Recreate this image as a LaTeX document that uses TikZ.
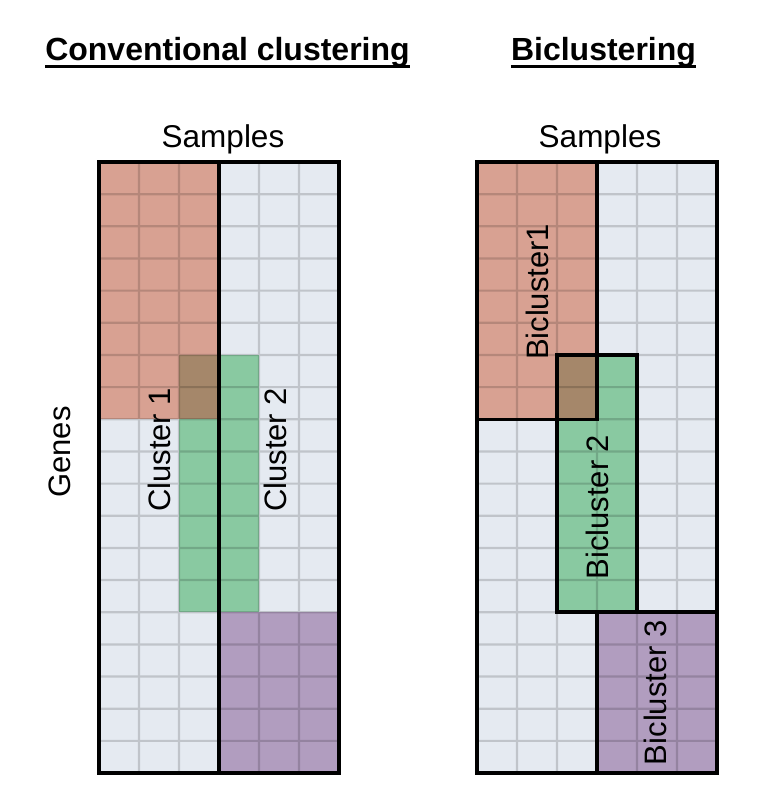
\documentclass[tikz,border=0pt]{standalone}
\usepackage{fontspec}
\setmainfont{Liberation Sans}
\usepackage{tikz}
\usetikzlibrary{positioning}
\definecolor{cellbg}{RGB}{229,234,241}
\definecolor{redcl}{RGB}{216,161,146}
\definecolor{greencl}{RGB}{137,201,161}
\definecolor{purplecl}{RGB}{177,157,191}
\definecolor{mixcl}{RGB}{165,135,106}
\newcommand{\cellgrid}{%
  \begin{scope}[transparency group, opacity=0.16]
  \foreach \i in {1,...,5} \draw[gridline] (\i,0) -- (\i,19);
  \foreach \j in {1,...,18} \draw[gridline] (0,\j) -- (6,\j);
  \end{scope}
}

\begin{document}
\begin{tikzpicture}[x=1pt, y=-1pt,
    gridline/.style={black, line width=2.2pt},
    frame/.style={draw=black, line width=3.5pt},
    lbl/.style={font=\fontsize{31}{36}\selectfont, rotate=90, inner sep=0pt},
    heading/.style={font=\fontsize{32}{38}\selectfont\bfseries, inner sep=0pt, anchor=base},
    axislbl/.style={font=\fontsize{31.5}{36}\selectfont, inner sep=0pt, anchor=base}
]
\useasboundingbox (0,0) rectangle (757,800);

\node[heading] (convtitle) at (227.5,60) {Conventional clustering};
\node[heading] (bititle) at (603.5,60) {Biclustering};
\draw[line width=3.3pt] ([yshift=-6.6pt]convtitle.base west) -- ([yshift=-6.6pt]convtitle.base east);
\draw[line width=3.3pt] ([yshift=-6.6pt]bititle.base west) -- ([yshift=-6.6pt]bititle.base east);

\node[axislbl] (samplesl) at (223,147) {Samples};
\node[axislbl] (samplesr) at (600,147) {Samples};
\node[lbl] (genes) at (60,452) {Genes};

% conventional clustering
\begin{scope}[shift={(99,162)}, x=40pt, y=-32.16pt]
  \fill[cellbg] (0,0) rectangle (6,19);
  \fill[redcl] (0,0) rectangle (3,8);
  \fill[greencl] (2,6) rectangle (4,14);
  \fill[mixcl] (2,6) rectangle (3,8);
  \fill[purplecl] (3,14) rectangle (6,19);
  \cellgrid
  \draw[frame] (0,0) rectangle (6,19);
  \draw[frame] (3,0) -- (3,19);
  \node[lbl] (clust1) at (1.5,8.95) {Cluster 1};
  \node[lbl] (clust2) at (4.4,8.95) {Cluster 2};
\end{scope}

% biclustering
\begin{scope}[shift={(477,162)}, x=40pt, y=-32.16pt]
  \fill[cellbg] (0,0) rectangle (6,19);
  \fill[redcl] (0,0) rectangle (3,8);
  \fill[greencl] (2,6) rectangle (4,14);
  \fill[mixcl] (2,6) rectangle (3,8);
  \fill[purplecl] (3,14) rectangle (6,19);
  \cellgrid
  \draw[frame] (0,0) rectangle (6,19);
  \draw[frame] (0,0) rectangle (3,8);
  \draw[frame] (2,6) rectangle (4,14);
  \draw[frame] (3,14) rectangle (6,19);
  \node[lbl] (bclust1) at (1.5,4.04) {Bicluster1};
  \node[lbl] (bclust2) at (3.0,10.73) {Bicluster 2};
  \node[lbl] (bclust3) at (4.47,16.5) {Bicluster 3};
\end{scope}
\end{tikzpicture}
\end{document}
